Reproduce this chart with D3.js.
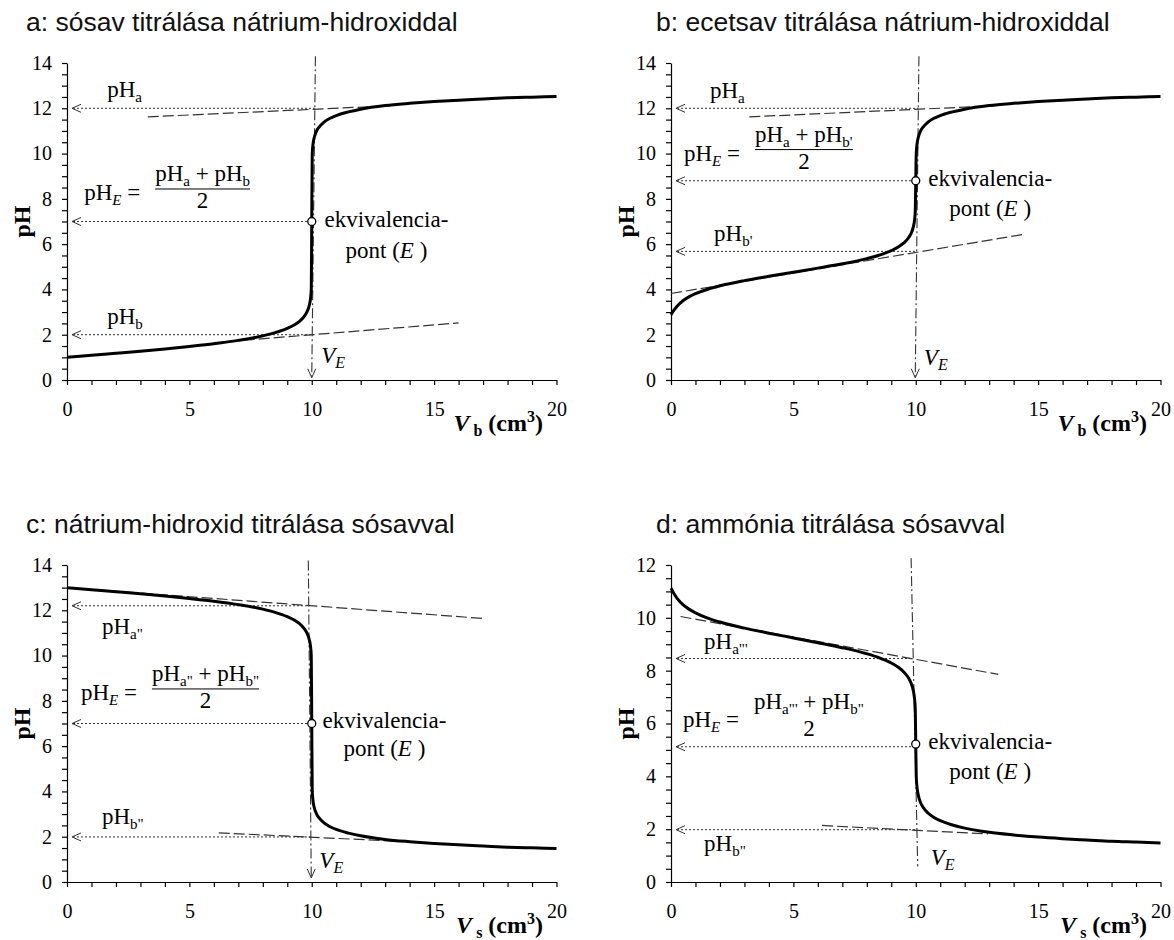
<!DOCTYPE html>
<html>
<head>
<meta charset="utf-8">
<script src="https://cdn.jsdelivr.net/npm/d3@7"></script>
<style>
  body { margin: 0; background: #fff; }
  svg { display: block; }
  text { white-space: pre; }
  .tick text { font-family: "Liberation Serif", "Times New Roman", serif; font-size: 20px; fill: #000; }
  .tick line, .domain { stroke: #000; stroke-width: 1.2; }
  .lbl { font-family: "Liberation Serif", "Times New Roman", serif; font-size: 23px; fill: #000; }
  .axttl { font-family: "Liberation Serif", "Times New Roman", serif; font-size: 24px; font-weight: bold; fill: #000; }
  .title { font-family: "Liberation Sans", Arial, sans-serif; font-size: 26.5px; fill: #111; }
</style>
</head>
<body>
<svg id="chart" width="1174" height="940"></svg>
<script>
// --- adatok ---
const panelTitles = [
  'a: sósav titrálása nátrium-hidroxiddal',
  'b: ecetsav titrálása nátrium-hidroxiddal',
  'c: nátrium-hidroxid titrálása sósavval',
  'd: ammónia titrálása sósavval'
];
const xSub = ['b', 'b', 's', 's'];
const xTickLabels = [0, 5, 10, 15, 20];
const yTickLabels = [[0, 2, 4, 6, 8, 10, 12, 14], [0, 2, 4, 6, 8, 10, 12, 14], [0, 2, 4, 6, 8, 10, 12, 14], [0, 2, 4, 6, 8, 10, 12]];

const volStrong = [0, 1, 2, 3, 4, 5, 6, 7, 8, 8.5, 9, 9.3, 9.5, 9.7, 9.8, 9.9, 9.95, 9.98, 10, 10.02, 10.05, 10.1, 10.2, 10.3, 10.5, 10.75, 11, 11.5, 12, 13, 14, 15, 16, 17, 18, 19, 20];
const phA = [1.00, 1.09, 1.18, 1.27, 1.37, 1.48, 1.60, 1.75, 1.95, 2.09, 2.28, 2.44, 2.59, 2.82, 3.00, 3.30, 3.60, 4.00, 7.00, 10.00, 10.40, 10.70, 11.00, 11.17, 11.39, 11.56, 11.68, 11.84, 11.96, 12.12, 12.22, 12.30, 12.36, 12.41, 12.46, 12.49, 12.52];
const phC = [13.00, 12.91, 12.82, 12.73, 12.63, 12.52, 12.40, 12.25, 12.05, 11.91, 11.72, 11.56, 11.41, 11.18, 11.00, 10.70, 10.40, 10.00, 7.00, 4.00, 3.60, 3.30, 3.00, 2.83, 2.61, 2.44, 2.32, 2.16, 2.04, 1.88, 1.78, 1.70, 1.64, 1.59, 1.54, 1.51, 1.48];

const volWeak = [0, 0.1, 0.25, 0.5, 0.75, 1, 1.5, 2, 3, 4, 5, 6, 7, 8, 8.5, 9, 9.3, 9.5, 9.7, 9.8, 9.9, 9.95, 9.98, 10, 10.02, 10.05, 10.1, 10.2, 10.3, 10.5, 10.75, 11, 11.5, 12, 13, 14, 15, 16, 17, 18, 19, 20];
const phB = [2.88, 3.05, 3.26, 3.51, 3.68, 3.81, 4.01, 4.16, 4.39, 4.58, 4.76, 4.94, 5.13, 5.36, 5.51, 5.71, 5.88, 6.04, 6.27, 6.45, 6.76, 7.06, 7.46, 8.73, 10.00, 10.40, 10.70, 11.00, 11.17, 11.39, 11.56, 11.68, 11.84, 11.96, 12.12, 12.22, 12.30, 12.36, 12.41, 12.46, 12.49, 12.52];
const phD = [11.12, 10.95, 10.74, 10.49, 10.32, 10.19, 9.99, 9.84, 9.61, 9.42, 9.24, 9.06, 8.87, 8.64, 8.49, 8.29, 8.12, 7.96, 7.73, 7.55, 7.24, 6.94, 6.54, 5.27, 4.00, 3.60, 3.30, 3.00, 2.83, 2.61, 2.44, 2.32, 2.16, 2.04, 1.88, 1.78, 1.70, 1.64, 1.59, 1.54, 1.51, 1.48];

const eqVol = [10, 10, 10, 10];
const eqPH = [7.0, 8.8, 7.0, 5.22];
const helperLevels = [[12.0, 7.0, 2.0], [12.0, 8.8, 5.68], [12.2, 7.0, 1.99], [8.46, 5.12, 1.98]];
const verticalLines = [[10.15, 14.3, 10.0, 0.1], [10.13, 14.3, 9.98, 0.1], [9.86, 14.2, 9.98, 0.18], [9.81, 12.26, 10.08, 0.59]];
const upperTangents = [[3.3, 11.62, 13.2, 12.11], [3.2, 11.62, 13.2, 12.11], [0, 13.0, 17.0, 11.64], [0.39, 10.05, 13.37, 7.86]];
const lowerTangents = [[6.0, 1.65, 16.0, 2.52], [0, 3.82, 14.5, 6.45], [6.2, 2.17, 13.5, 1.80], [6.17, 2.14, 12.95, 1.82]];
const upperSub = ['a', 'a', 'a"', 'a"\''];
const lowerSub = ['b', 'b\'', 'b"', 'b"'];

// --- elrendezés ---
const panelLayout = [
  { left: 67, top: 63, yMax: 14, titleX: 26, titleY: 31, ttlEnd: 543, ttlY: 431,
    up: [1.64, 12.5], low: [1.64, 2.47], frm: [0.7, 7.95], ekv: [13.05, 6.76], pont: 5.41, ve: [10.39, 0.75], bar: true, arrow: true },
  { left: 671, top: 63, yMax: 14, titleX: 656, titleY: 31, ttlEnd: 1147, ttlY: 431,
    up: [1.59, 12.47], low: [1.76, 6.12], frm: [0.53, 9.69], ekv: [13.04, 8.57], pont: 7.26, ve: [10.33, 0.68], bar: true, arrow: true },
  { left: 67, top: 565, yMax: 14, titleX: 26, titleY: 533, ttlEnd: 543, ttlY: 933,
    up: [1.43, 10.95], low: [1.43, 2.54], frm: [0.57, 8.04], ekv: [12.97, 6.82], pont: 5.57, ve: [10.31, 0.62], bar: true, arrow: true },
  { left: 671, top: 565, yMax: 12, titleX: 656, titleY: 533, ttlEnd: 1147, ttlY: 933,
    up: [1.35, 8.82], low: [1.35, 1.17], frm: [0.49, 5.85], ekv: [13.04, 5.03], pont: 3.9, ve: [10.61, 0.66], bar: false, arrow: false }
];
const plotW = 489.5, plotH = 317;
const curves = [d3.zip(volStrong, phA), d3.zip(volWeak, phB), d3.zip(volStrong, phC), d3.zip(volWeak, phD)];

const svg = d3.select('#chart');

function richText(g, x, y, parts, cls, anchor) {
  const t = g.append('text').attr('class', cls).attr('x', x).attr('y', y)
    .attr('text-anchor', anchor || 'start');
  let cur = 0;
  parts.forEach(p => {
    const off = p.sub ? 5 : (p.sup ? -9 : 0);
    const ts = t.append('tspan').attr('dy', off - cur).text(p.t);
    if (p.dx) ts.attr('dx', p.dx);
    cur = off;
    if (p.sub || p.sup) ts.style('font-size', (p.fs || 15) + 'px');
    if (p.it) ts.style('font-style', 'italic');
  });
  return t;
}

function leftArrow(g, x0, x1, yy) {
  g.append('line').attr('x1', x0 + 1).attr('x2', x1).attr('y1', yy).attr('y2', yy)
    .attr('stroke', '#333').attr('stroke-width', 1).attr('stroke-dasharray', '2,2');
  g.append('path').attr('d', `M${x0 + 9},${yy - 4}L${x0},${yy}L${x0 + 9},${yy + 4}`)
    .attr('fill', 'none').attr('stroke', '#333').attr('stroke-width', 1);
}

panelLayout.forEach((L, i) => {
  const x = d3.scaleLinear([0, 20], [L.left, L.left + plotW]);
  const y = d3.scaleLinear([0, L.yMax], [L.top + plotH, L.top]);
  const g = svg.append('g');

  // cím
  g.append('text').attr('class', 'title').attr('x', L.titleX).attr('y', L.titleY).text(panelTitles[i]);

  // tengelyek
  g.append('g').attr('transform', `translate(0,${L.top + plotH})`)
    .call(d3.axisBottom(x).tickValues(d3.range(0, 20.01, 1)).tickSize(5).tickSizeOuter(0).tickPadding(17)
      .tickFormat(d => xTickLabels.includes(d) ? d : ''));
  g.append('g').attr('transform', `translate(${L.left},0)`)
    .call(d3.axisLeft(y).tickValues(d3.range(0, L.yMax + 0.01, 0.5)).tickSize(5).tickSizeOuter(0).tickPadding(10)
      .tickFormat(d => yTickLabels[i].includes(d) ? d : ''));

  g.append('text').attr('class', 'axttl').attr('text-anchor', 'middle')
    .attr('transform', `translate(${L.left - 37},${L.top + plotH / 2}) rotate(-90)`).text('pH');
  richText(g, L.ttlEnd, L.ttlY, [
    { t: 'V', it: true }, { t: xSub[i], sub: true, fs: 16, dx: 4 }, { t: ' (cm' }, { t: '3', sup: true, fs: 16 }, { t: ')' }
  ], 'axttl', 'end');

  // segédvonalak
  const vl = verticalLines[i];
  const vx = p => vl[0] + (vl[2] - vl[0]) * (p - vl[1]) / (vl[3] - vl[1]);
  g.append('line').attr('x1', x(vl[0])).attr('y1', y(vl[1])).attr('x2', x(vl[2])).attr('y2', y(vl[3]))
    .attr('stroke', '#333').attr('stroke-width', 1.1).attr('stroke-dasharray', '10,3,2,3');
  if (L.arrow) {
    const tx = x(vl[2]), ty = y(vl[3]);
    g.append('path').attr('d', `M${tx - 4},${ty - 9}L${tx},${ty}L${tx + 4},${ty - 9}`)
      .attr('fill', 'none').attr('stroke', '#333').attr('stroke-width', 1);
  }
  [upperTangents[i], lowerTangents[i]].forEach(t => {
    g.append('line').attr('x1', x(t[0])).attr('y1', y(t[1])).attr('x2', x(t[2])).attr('y2', y(t[3]))
      .attr('stroke', '#333').attr('stroke-width', 1.2).attr('stroke-dasharray', '11,4');
  });
  helperLevels[i].forEach(p => leftArrow(g, L.left + 5, x(vx(p)), y(p)));

  // görbe
  g.append('path').datum(curves[i])
    .attr('fill', 'none').attr('stroke', '#000').attr('stroke-width', 3).attr('stroke-linejoin', 'round')
    .attr('d', d3.line().x(d => x(d[0])).y(d => y(d[1])).curve(d3.curveMonotoneX));

  g.append('circle').attr('cx', x(eqVol[i])).attr('cy', y(eqPH[i])).attr('r', 4)
    .attr('fill', '#fff').attr('stroke', '#000').attr('stroke-width', 1.3);

  // feliratok
  richText(g, x(L.up[0]), y(L.up[1]), [{ t: 'pH' }, { t: upperSub[i], sub: true }], 'lbl');
  richText(g, x(L.low[0]), y(L.low[1]), [{ t: 'pH' }, { t: lowerSub[i], sub: true }], 'lbl');
  richText(g, x(L.ve[0]), y(L.ve[1]), [{ t: 'V', it: true }, { t: 'E', sub: true, it: true, fs: 16 }], 'lbl');
  richText(g, x(L.ekv[0]), y(L.ekv[1]), [{ t: 'ekvivalencia-' }], 'lbl', 'middle');
  richText(g, x(L.ekv[0]), y(L.pont), [{ t: 'pont (' }, { t: 'E', it: true }, { t: ' )' }], 'lbl', 'middle');

  const fx = x(L.frm[0]), fy = y(L.frm[1]);
  richText(g, fx, fy, [{ t: 'pH' }, { t: 'E', sub: true, it: true }, { t: ' =' }], 'lbl');
  const num = richText(g, fx + 71, fy - 18.5, [
    { t: 'pH' }, { t: upperSub[i], sub: true }, { t: ' + pH' }, { t: lowerSub[i], sub: true }
  ], 'lbl');
  const bb = num.node().getBBox();
  if (L.bar) {
    g.append('line').attr('x1', bb.x).attr('x2', bb.x + bb.width).attr('y1', fy - 11).attr('y2', fy - 11)
      .attr('stroke', '#000').attr('stroke-width', 1);
  }
  richText(g, bb.x + bb.width / 2, fy + 8.5, [{ t: '2' }], 'lbl', 'middle');
});
</script>
</body>
</html>
